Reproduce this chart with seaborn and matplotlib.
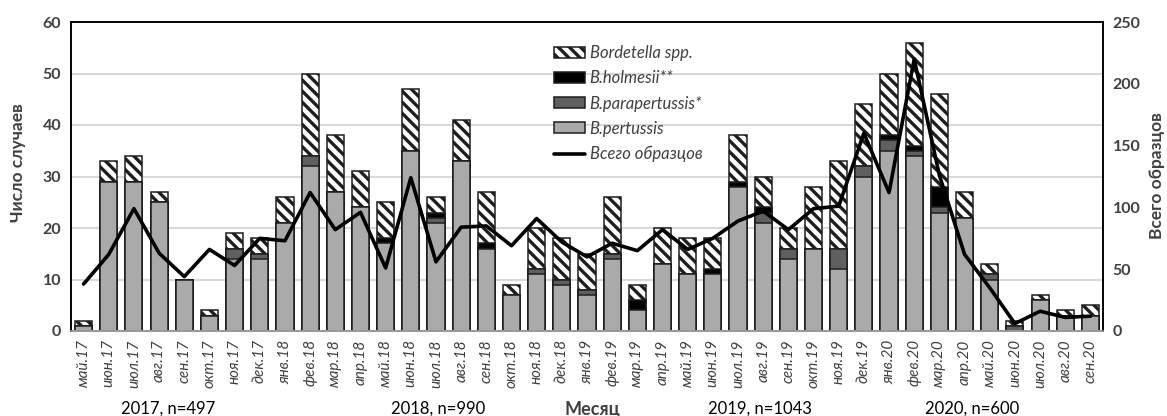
import numpy as np
import pandas as pd
import seaborn as sns
import matplotlib.pyplot as plt
from matplotlib.patches import Patch
from matplotlib.lines import Line2D

months = ["май.17", "июн.17", "июл.17", "авг.17", "сен.17", "окт.17", "ноя.17", "дек.17",
          "янв.18", "фев.18", "мар.18", "апр.18", "май.18", "июн.18", "июл.18", "авг.18",
          "сен.18", "окт.18", "ноя.18", "дек.18",
          "янв.19", "фев.19", "мар.19", "апр.19", "май.19", "июн.19", "июл.19", "авг.19",
          "сен.19", "окт.19", "ноя.19", "дек.19",
          "янв.20", "фев.20", "мар.20", "апр.20", "май.20", "июн.20", "июл.20", "авг.20", "сен.20"]

pertussis = [1, 29, 29, 25, 10, 3, 14, 14,
             21, 32, 27, 24, 17, 35, 21, 33, 16, 7, 11, 9,
             7, 14, 4, 13, 11, 11, 28, 21, 14, 16, 12, 30,
             35, 34, 23, 22, 10, 0, 6, 3, 3]
parapertussis = [0, 0, 0, 0, 0, 0, 2, 1,
                 0, 2, 0, 0, 0, 0, 1, 0, 0, 0, 1, 1,
                 1, 1, 0, 0, 0, 0, 0, 2, 2, 0, 4, 2,
                 2, 1, 1, 0, 1, 1, 0, 0, 0]
holmesii = [0, 0, 0, 0, 0, 0, 0, 0,
            0, 0, 0, 0, 1, 0, 1, 0, 1, 0, 0, 0,
            0, 0, 2, 0, 0, 1, 1, 1, 0, 0, 0, 0,
            1, 1, 4, 0, 0, 0, 0, 0, 0]
spp = [1, 4, 5, 2, 0, 1, 3, 3,
       5, 16, 11, 7, 7, 12, 3, 8, 10, 2, 8, 8,
       7, 11, 3, 7, 7, 6, 9, 6, 4, 12, 17, 12,
       12, 20, 18, 5, 2, 1, 1, 1, 2]
total_samples = [38, 62, 99, 63, 44, 66, 53, 75,
                 73, 112, 82, 96, 51, 124, 56, 84, 85, 69, 91, 72,
                 60, 71, 65, 82, 66, 75, 89, 97, 82, 99, 101, 160,
                 112, 220, 126, 62, 35, 6, 16, 11, 12]

year_labels = ["2017, n=497", "2018, n=990", "2019, n=1043", "2020, n=600"]
year_label_x = [168, 438, 760, 972]

sns.set_theme(style="white")
plt.rcParams['font.family'] = ['Lato', 'DejaVu Sans']
plt.rcParams['hatch.linewidth'] = 2.4
plt.rcParams['hatch.color'] = 'black'

df = pd.DataFrame({"month": months, "pert": pertussis, "para": parapertussis,
                   "holm": holmesii, "spp": spp})
df["c1"] = df["pert"]
df["c2"] = df["c1"] + df["para"]
df["c3"] = df["c2"] + df["holm"]
df["c4"] = df["c3"] + df["spp"]

fig = plt.figure(figsize=(11.67, 4.16), dpi=100)
ax = fig.add_axes([71 / 1167, 85 / 416, 1032 / 1167, 309 / 416])

edge = "#1e1e1e"
common = dict(ax=ax, order=months, width=0.68, saturation=1, edgecolor=edge, linewidth=1.1)
sns.barplot(data=df, x="month", y="c4", color="white", hatch="\\\\\\", **common)
sns.barplot(data=df, x="month", y="c3", color="black", **common)
sns.barplot(data=df, x="month", y="c2", color="#5f5f5f", **common)
sns.barplot(data=df, x="month", y="c1", color="#aaaaaa", **common)

ax.set_ylim(0, 60)
ax.set_yticks(range(0, 61, 10))
ax.yaxis.grid(True, color="#d9d9d9", linewidth=1.5)
ax.set_axisbelow(True)
ax.set_xlabel("")
ax.set_ylabel("")
ax.tick_params(axis="y", length=0, labelsize=11.5, labelcolor="#404040", pad=7)
for t in ax.get_yticklabels():
    t.set_fontweight("bold")

ax.set_xticks(range(len(months)))
ax.set_xticklabels(months, rotation=90, fontstyle="italic", fontsize=11, color="#404040")
ax.tick_params(axis="x", which="major", length=0, pad=6)
ax.set_xticks(np.arange(-0.5, len(months), 1), minor=True)
ax.tick_params(axis="x", which="minor", length=5, color="#999999", width=1)

ax2 = ax.twinx()
sns.lineplot(x=np.arange(len(months)), y=total_samples, ax=ax2, color="black", linewidth=2.6)
ax2.set_ylim(0, 250)
ax2.set_yticks(range(0, 251, 50))
ax2.set_ylabel("")
ax2.tick_params(axis="y", length=0, labelsize=11.5, labelcolor="#404040", pad=7)
for t in ax2.get_yticklabels():
    t.set_fontweight("bold")
ax.set_xlim(-0.5, len(months) - 0.5)

# axis titles placed by hand, like in the source figure
fig.text(18 / 1167, 1 - 163 / 416, "Число случаев", rotation=90, ha="center", va="center",
         fontsize=12.5, fontweight="bold", color="#404040")
fig.text(1157 / 1167, 1 - 176 / 416, "Всего образцов", rotation=90, ha="center", va="center",
         fontsize=12.5, fontweight="bold", color="#404040")

for a in (ax, ax2):
    for s in ("left", "top", "right"):
        a.spines[s].set_color("black")
        a.spines[s].set_linewidth(1.2)
    a.spines["bottom"].set_color("#999999")
    a.spines["bottom"].set_linewidth(1.2)

handles = [
    Patch(facecolor="white", edgecolor=edge, hatch="\\\\\\", linewidth=1.1),
    Patch(facecolor="black", edgecolor=edge, linewidth=1.1),
    Patch(facecolor="#5f5f5f", edgecolor=edge, linewidth=1.1),
    Patch(facecolor="#aaaaaa", edgecolor=edge, linewidth=1.1),
    Line2D([0], [0], color="black", linewidth=2.6),
]
labels = ["Bordetella spp.", "B.holmesii**", "B.parapertussis*", "B.pertussis", "Всего образцов"]
leg = ax2.legend(handles, labels, loc="upper left", bbox_to_anchor=(0.4685, 0.925),
                 frameon=False, borderpad=0, borderaxespad=0,
                 handlelength=1.86, handleheight=0.66, handletextpad=0.25,
                 labelspacing=0.55, prop={"style": "italic", "size": 12})
for t in leg.get_texts():
    t.set_color("#404040")

for lbl, x in zip(year_labels, year_label_x):
    fig.text(x / 1167, 7 / 416, lbl, ha="center", va="center", fontsize=12, color="black")
fig.text(592 / 1167, 7 / 416, "Месяц", ha="center", va="center", fontsize=13,
         fontweight="bold", color="#404040")

fig.savefig("out.png", dpi=100)
